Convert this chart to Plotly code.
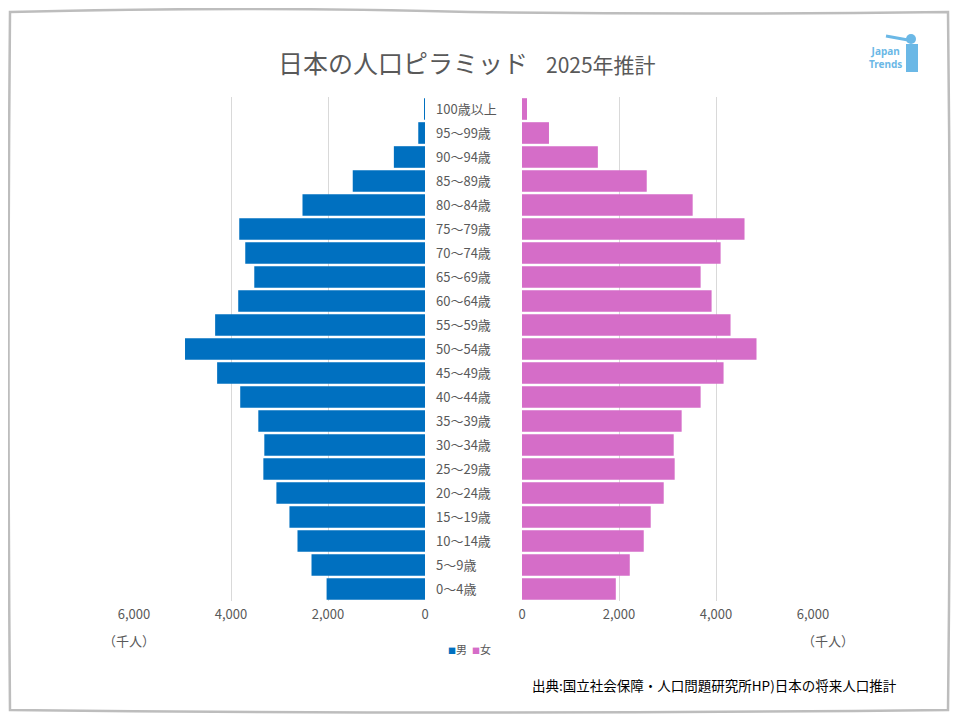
import plotly.graph_objects as go
from plotly.subplots import make_subplots

# Age groups, bottom to top
age_groups = ["0～4歳", "5～9歳", "10～14歳", "15～19歳", "20～24歳", "25～29歳",
              "30～34歳", "35～39歳", "40～44歳", "45～49歳", "50～54歳", "55～59歳",
              "60～64歳", "65～69歳", "70～74歳", "75～79歳", "80～84歳", "85～89歳",
              "90～94歳", "95～99歳", "100歳以上"]
# thousand persons (2025 projection)
male = [2029, 2340, 2629, 2795, 3064, 3333, 3313, 3437, 3810, 4286, 4948, 4327,
        3851, 3520, 3706, 3830, 2526, 1490, 642, 139, 20]
female = [1934, 2222, 2510, 2654, 2922, 3148, 3128, 3292, 3683, 4156, 4835, 4300,
          3909, 3683, 4095, 4588, 3519, 2572, 1564, 556, 103]
tick_vals = [0, 2000, 4000, 6000]
tick_text = ["0", "2,000", "4,000", "6,000"]

MALE_C = "#0070C0"
FEMALE_C = "#D56DC8"
GRAY = "#595959"
FONT = "Noto Sans CJK JP"

W, H = 960, 720
OFF = 8  # page body margin
def px(x):
    return (x - OFF) / W
def py(y):
    return 1 - (y - OFF) / H

fig = make_subplots(rows=1, cols=2, shared_yaxes=False, horizontal_spacing=0.1)

fig.add_trace(go.Bar(y=age_groups, x=male, orientation="h", name="男",
                     marker=dict(color=MALE_C, line=dict(width=0))), row=1, col=1)
fig.add_trace(go.Bar(y=age_groups, x=female, orientation="h", name="女",
                     marker=dict(color=FEMALE_C, line=dict(width=0))), row=1, col=2)

axis_common = dict(tickvals=tick_vals, ticktext=tick_text, showgrid=True,
                   gridcolor="#d9d9d9", gridwidth=1, zeroline=False, showline=False,
                   ticks="", automargin=False, ticklabelstandoff=4,
                   tickfont=dict(family=FONT, size=13, color=GRAY))
fig.update_xaxes(range=[6000, 0], domain=[px(134), px(425)], **axis_common, row=1, col=1)
fig.update_xaxes(range=[0, 6000], domain=[px(522), px(813)], **axis_common, row=1, col=2)

fig.update_yaxes(domain=[py(601), py(97)], categoryorder="array", categoryarray=age_groups,
                 side="right", showgrid=False, zeroline=False, showline=False, ticks="",
                 ticklabelstandoff=10, automargin=False,
                 tickfont=dict(family=FONT, size=13, color=GRAY), row=1, col=1)
fig.update_yaxes(domain=[py(601), py(97)], categoryorder="array", categoryarray=age_groups,
                 showticklabels=False, showgrid=False, zeroline=False, showline=False,
                 automargin=False, matches="y", row=1, col=2)

legend_text = (f"<span style='color:{MALE_C};font-size:8px'>■</span>男  "
               f"<span style='color:{FEMALE_C};font-size:8px'>■</span>女")

annotations = [
    dict(text="日本の人口ピラミッド", x=px(276), y=py(62), xref="paper", yref="paper",
         xanchor="left", yanchor="middle", showarrow=False,
         font=dict(family=FONT, size=25, color=GRAY)),
    dict(text="2025年推計", x=px(544), y=py(64), xref="paper", yref="paper",
         xanchor="left", yanchor="middle", showarrow=False,
         font=dict(family=FONT, size=21, color=GRAY)),
    dict(text="（千人）", x=px(129), y=py(640), xref="paper", yref="paper",
         xanchor="center", yanchor="middle", showarrow=False,
         font=dict(family=FONT, size=13, color=GRAY)),
    dict(text="（千人）", x=px(828), y=py(640), xref="paper", yref="paper",
         xanchor="center", yanchor="middle", showarrow=False,
         font=dict(family=FONT, size=13, color=GRAY)),
    dict(text=legend_text, x=px(446), y=py(649), xref="paper", yref="paper",
         xanchor="left", yanchor="middle", showarrow=False,
         font=dict(family=FONT, size=11, color=GRAY)),
    dict(text="出典:国立社会保障・人口問題研究所HP)日本の将来人口推計", x=px(530), y=py(685),
         xref="paper", yref="paper", xanchor="left", yanchor="middle", showarrow=False,
         font=dict(family=FONT, size=13.5, color="#000000")),
    dict(text="<b>Japan<br>Trends</b>", x=px(885), y=py(58), xref="paper", yref="paper",
         xanchor="center", yanchor="middle", showarrow=False, align="center",
         font=dict(family="Noto Sans", size=10, color="#6bb8e6")),
]

shapes = [
    # hand-drawn-like frame
    dict(type="path", xref="paper", yref="paper",
         path=(f"M {px(10)} {py(12)} Q {px(250)} {py(6)} {px(470)} {py(12)} "
               f"Q {px(700)} {py(15)} {px(948)} {py(12)} "
               f"Q {px(952)} {py(360)} {px(948)} {py(710)} "
               f"Q {px(480)} {py(715)} {px(10)} {py(710)} "
               f"Q {px(7)} {py(360)} {px(10)} {py(12)} Z"),
         line=dict(color="#bdbdbd", width=2.5)),
    # logo figure (simplified)
    dict(type="rect", xref="paper", yref="paper", x0=px(906), x1=px(918),
         y0=py(72), y1=py(44), fillcolor="#6bb8e6", line=dict(width=0)),
    dict(type="circle", xref="paper", yref="paper", x0=px(906), x1=px(916),
         y0=py(44), y1=py(34), fillcolor="#6bb8e6", line=dict(width=0)),
    dict(type="line", xref="paper", yref="paper", x0=px(886), x1=px(908),
         y0=py(36), y1=py(40), line=dict(color="#6bb8e6", width=3)),
]

fig.update_layout(
    width=W, height=H, margin=dict(l=0, r=0, t=0, b=0, autoexpand=False),
    paper_bgcolor="white", plot_bgcolor="white",
    bargap=0.1, showlegend=False,
    annotations=annotations, shapes=shapes,
)

fig.write_html("out.html")
